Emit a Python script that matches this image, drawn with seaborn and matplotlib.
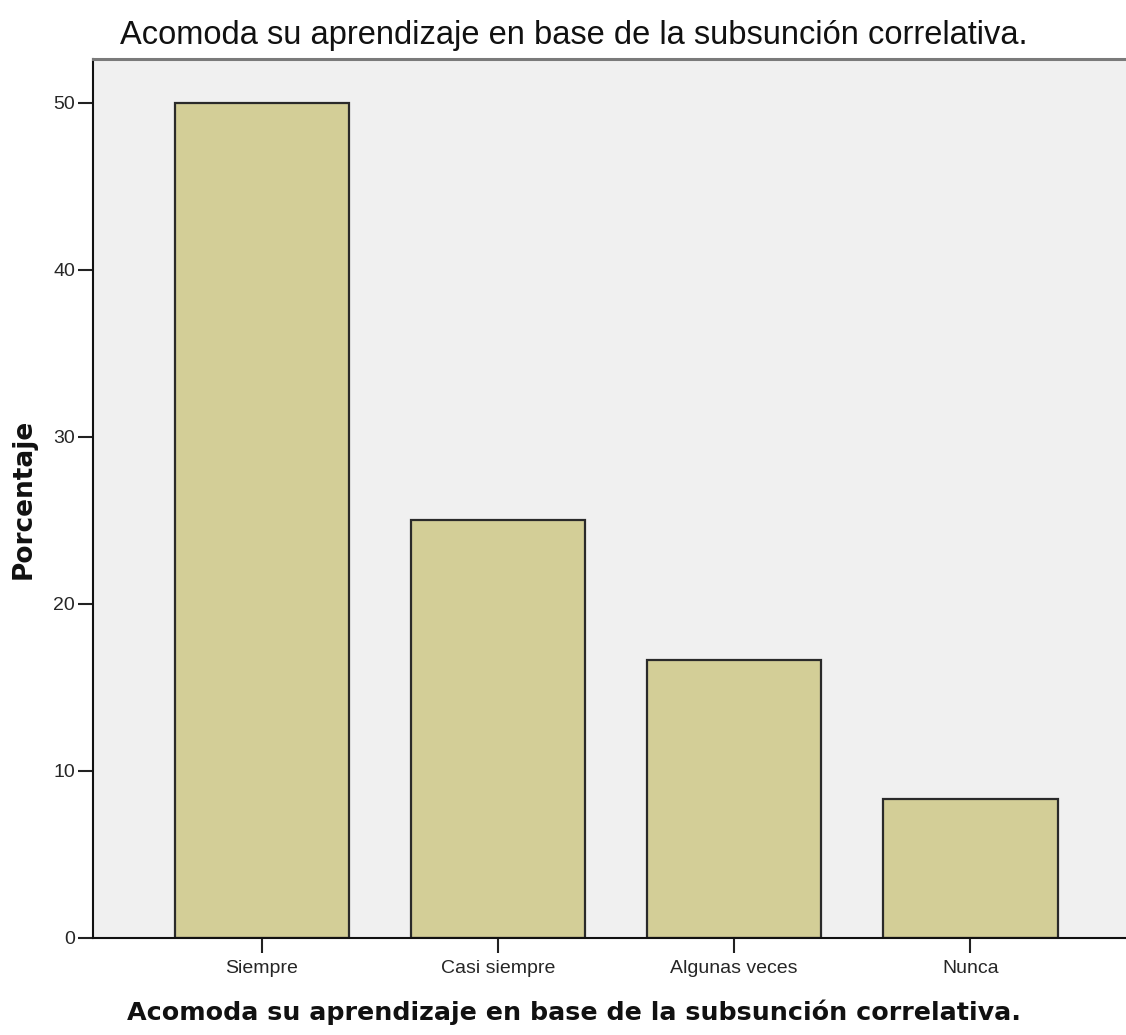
import matplotlib
matplotlib.use("Agg")
import matplotlib.pyplot as plt
import seaborn as sns
import pandas as pd

categories = ["Siempre", "Casi siempre", "Algunas veces", "Nunca"]
percentages = [50.0, 25.0, 16.67, 8.33]
y_ticks = [0, 10, 20, 30, 40, 50]

title = "Acomoda su aprendizaje en base de la subsunción correlativa."
xlabel = "Acomoda su aprendizaje en base de la subsunción correlativa."
ylabel = "Porcentaje"

sns.set_style("white")
plt.rcParams["font.family"] = ["Liberation Sans", "DejaVu Sans"]

df = pd.DataFrame({"cat": categories, "pct": percentages})

fig = plt.figure(figsize=(11.26, 10.35), dpi=100)
ax = fig.add_axes([93/1126, 97/1035, 1 - 93/1126, (938-59)/1035])
ax.set_facecolor("#F0F0F0")

sns.barplot(data=df, x="cat", y="pct", order=categories, color="#D3CE97",
            saturation=1, width=0.74, edgecolor="#2a2a2a", linewidth=1.6, ax=ax)

ax.set_xlim(-0.716, 3.66)
ax.set_ylim(0, 52.63)
ax.set_yticks(y_ticks)
ax.set_yticklabels([str(t) for t in y_ticks], fontsize=14)
for lbl in ax.get_xticklabels():
    lbl.set_fontsize(14)
ax.tick_params(axis="x", labelsize=14, length=11, width=1.5, color="#222222", pad=5, direction="out", bottom=True)
ax.tick_params(axis="y", length=11, width=1.5, color="#222222", pad=2, direction="out", left=True)

for s in ["left", "bottom"]:
    ax.spines[s].set_color("#111111")
    ax.spines[s].set_linewidth(1.5)
ax.spines["top"].set_color("#7a7a7a")
ax.spines["top"].set_linewidth(2.2)
ax.spines["right"].set_visible(False)

ax.set_xlabel(xlabel, fontsize=18.3, fontweight="bold", family="DejaVu Sans", color="#111111")
ax.xaxis.set_label_coords((574 - 93) / 1033, -(1012 - 938) / 879)
ax.xaxis.label.set_va("center")
ax.set_ylabel(ylabel, fontsize=19, fontweight="bold", family="DejaVu Sans", labelpad=12, color="#111111")
fig.text(0.51, 0.966, title, ha="center", va="center", fontsize=23.5, color="#111111")

fig.savefig("out.png", dpi=100, facecolor="white")
